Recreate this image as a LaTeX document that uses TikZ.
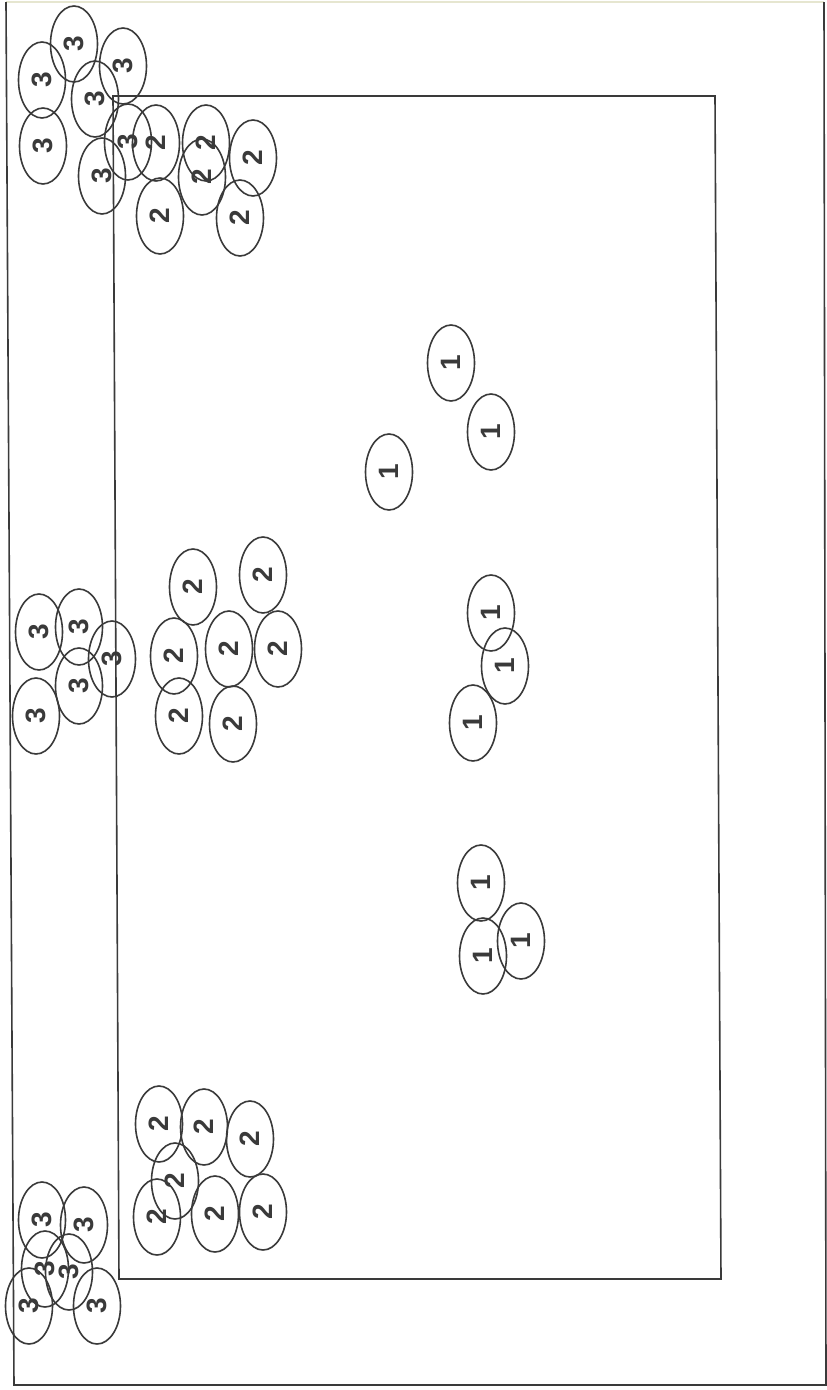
\documentclass[tikz,border=0pt]{standalone}
\usepackage{fontspec}
\setmainfont{Liberation Sans}
\usetikzlibrary{shapes.geometric}
\definecolor{ink}{HTML}{3A3A3A}
\definecolor{faint}{HTML}{E6E6D0}
\tikzset{
  blob/.style={ellipse, draw=ink, line width=1.6pt, minimum width=76pt, minimum height=47pt,
    inner sep=0pt, rotate=90, font=\fontsize{28}{28}\selectfont\bfseries, text=ink},
  frame/.style={draw=ink, line width=1.6pt}
}
\begin{document}
\begin{tikzpicture}[x=1pt,y=-1pt]
\useasboundingbox (0,0) rectangle (827,1390);
\fill[white] (0,0) rectangle (827,1390);
% frames
\draw[faint, line width=1.6pt] (6,2) -- (824,2);
\draw[frame] (6,2) -- (14,1385) -- (826,1385) -- (824,2);
\draw[frame] (113,96) -- (715,96) -- (721,1279) -- (119,1279) -- cycle;
% top-left group 3
\node[blob] (a1) at (74,44) {3};
\node[blob] (a2) at (42,80) {3};
\node[blob] (a3) at (123,66) {3};
\node[blob] (a4) at (95,99) {3};
\node[blob] (a5) at (43,146) {3};
\node[blob] (a6) at (128,142) {3};
\node[blob] (a7) at (102,176) {3};
% top-left group 2
\node[blob] (b1) at (156,143) {2};
\node[blob] (b2) at (206,143) {2};
\node[blob] (b3) at (202,177) {2};
\node[blob] (b4) at (253,158) {2};
\node[blob] (b5) at (160,216) {2};
\node[blob] (b6) at (240,218) {2};
% middle 3
\node[blob] (c1) at (39,632) {3};
\node[blob] (c2) at (79,627) {3};
\node[blob] (c3) at (112,659) {3};
\node[blob] (c4) at (79,686) {3};
\node[blob] (c5) at (36,716) {3};
% middle 2
\node[blob] (d1) at (193,587) {2};
\node[blob] (d2) at (263,575) {2};
\node[blob] (d3) at (174,656) {2};
\node[blob] (d4) at (229,649) {2};
\node[blob] (d5) at (278,649) {2};
\node[blob] (d6) at (179,716) {2};
\node[blob] (d7) at (233,724) {2};
% bottom 2
\node[blob] (e1) at (159,1124) {2};
\node[blob] (e2) at (204,1127) {2};
\node[blob] (e3) at (250,1139) {2};
\node[blob] (e4) at (175,1181) {2};
\node[blob] (e5) at (157,1217) {2};
\node[blob] (e6) at (215,1214) {2};
\node[blob] (e7) at (263,1212) {2};
% bottom 3
\node[blob] (f1) at (42,1220) {3};
\node[blob] (f2) at (84,1225) {3};
\node[blob] (f3) at (45,1269) {3};
\node[blob] (f4) at (69,1272) {3};
\node[blob] (f5) at (29,1306) {3};
\node[blob] (f6) at (97,1306) {3};
% 1s
\node[blob] (g1) at (451,363) {1};
\node[blob] (g2) at (491,432) {1};
\node[blob] (g3) at (389,472) {1};
\node[blob] (g4) at (491,613) {1};
\node[blob] (g5) at (505,666) {1};
\node[blob] (g6) at (473,723) {1};
\node[blob] (g7) at (481,883) {1};
\node[blob] (g8) at (483,956) {1};
\node[blob] (g9) at (521,941) {1};
\end{tikzpicture}
\end{document}
